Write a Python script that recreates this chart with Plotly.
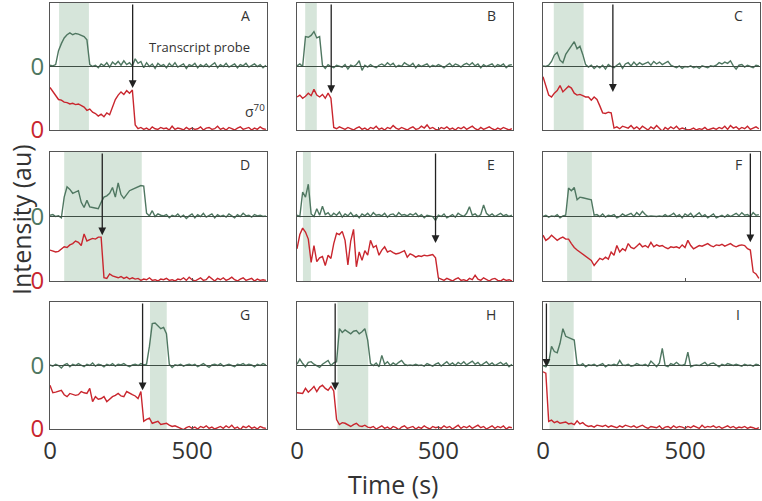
import plotly.graph_objects as go
from plotly.subplots import make_subplots

TIME = list(range(0, 770, 10))
PANELS = ["A", "B", "C", "D", "E", "F", "G", "H", "I"]

GREEN_A = [0.02, 0.01, 0.03, 0.25, 0.36, 0.45, 0.50, 0.53, 0.50, 0.52,
           0.51, 0.49, 0.47, 0.42, 0.03, 0.00, 0.02, -0.02, 0.04, 0.01,
           0.06, -0.01, 0.07, 0.03, 0.08, 0.02, 0.09, 0.03, 0.06, 0.01,
           0.12, 0.05, 0.08, -0.02, 0.06, 0.00, 0.04, -0.03, 0.05, 0.01,
           0.03, -0.02, 0.05, 0.00, 0.06, -0.01, 0.02, 0.04, -0.03, 0.03,
           0.01, 0.05, -0.02, 0.03, 0.00, 0.04, -0.01, 0.02, 0.06, -0.02,
           0.03, 0.00, 0.05, -0.01, 0.02, 0.04, -0.02, 0.03, 0.01, 0.05,
           -0.01, 0.02, 0.04, 0.00, 0.03, -0.02, 0.02]
RED_A = [0.67, 0.60, 0.55, 0.48, 0.47, 0.44, 0.43, 0.41, 0.42, 0.40,
         0.41, 0.38, 0.36, 0.31, 0.33, 0.28, 0.26, 0.22, 0.25, 0.21,
         0.27, 0.24, 0.35, 0.48, 0.55, 0.60, 0.56, 0.62, 0.58, 0.63,
         0.08, 0.02, 0.04, 0.01, 0.03, 0.00, 0.05, 0.02, 0.01, 0.04,
         0.02, 0.03, 0.00, 0.06, 0.01, 0.03, 0.02, 0.00, 0.04, 0.01,
         0.03, 0.01, 0.02, 0.05, 0.00, 0.03, 0.04, 0.01, 0.02, 0.06,
         0.01, 0.03, 0.00, 0.04, 0.02, 0.00, 0.03, 0.05, 0.01, 0.02,
         0.04, 0.00, 0.03, 0.01, 0.05, 0.02, 0.01]

GREEN_B = [0.01, 0.04, 0.00, 0.47, 0.46, 0.49, 0.55, 0.45, 0.47, 0.02,
           -0.03, 0.03, 0.00, -0.02, 0.02, 0.01, -0.01, 0.03, -0.04, 0.02,
           0.00, 0.03, 0.09, -0.06, 0.02, -0.01, 0.03, 0.00, -0.02, 0.02,
           0.04, 0.01, 0.06, 0.02, 0.05, -0.01, 0.02, 0.00, 0.06, 0.03,
           0.01, 0.05, -0.02, 0.03, 0.00, 0.02, 0.04, -0.01, 0.02, 0.00,
           0.03, 0.01, -0.02, 0.02, 0.05, 0.00, 0.04, 0.02, -0.01, 0.03,
           0.05, 0.02, 0.06, 0.01, 0.04, -0.02, 0.03, 0.00, 0.02, 0.04,
           -0.01, 0.03, 0.01, 0.04, -0.02, 0.02, 0.03]
RED_B = [0.52, 0.55, 0.50, 0.53, 0.58, 0.54, 0.64, 0.55, 0.52, 0.56,
         0.50, 0.58, 0.50, 0.04, 0.02, 0.05, 0.03, 0.01, 0.04, 0.02,
         0.00, 0.03, 0.05, 0.01, 0.03, 0.00, 0.04, 0.02, 0.06, 0.01,
         0.03, 0.00, 0.04, 0.02, 0.07, 0.03, 0.01, 0.04, 0.02, 0.00,
         0.03, 0.05, 0.01, 0.02, 0.06, 0.03, 0.08, 0.02, 0.04, 0.01,
         0.00, 0.04, 0.02, 0.05, 0.01, 0.03, 0.00, 0.04, 0.02, 0.05,
         0.01, 0.03, 0.06, 0.02, 0.00, 0.04, 0.01, 0.03, 0.05, 0.02,
         0.00, 0.03, 0.01, 0.04, 0.02, 0.00, 0.02]

GREEN_C = [0.01, 0.00, 0.02, 0.08, 0.18, 0.22, 0.10, 0.06, 0.19, 0.26,
           0.31, 0.39, 0.28, 0.32, 0.19, 0.03, -0.01, 0.02, -0.03, 0.01,
           -0.02, 0.02, -0.04, 0.03, 0.00, -0.02, 0.02, 0.05, -0.03, 0.04,
           0.06, 0.01, 0.07, 0.02, 0.06, 0.03, 0.05, 0.07, 0.02, 0.08,
           0.04, 0.07, 0.03, 0.06, 0.08, 0.02, 0.00, -0.02, 0.01, -0.03,
           0.00, -0.01, 0.01, -0.02, 0.00, -0.03, 0.01, 0.00, -0.02, 0.01,
           0.00, 0.02, 0.06, 0.04, 0.07, 0.05, 0.09, 0.01, -0.04, 0.02,
           0.03, -0.01, 0.02, 0.00, -0.02, 0.02, 0.01]
RED_C = [0.84, 0.70, 0.55, 0.52, 0.58, 0.62, 0.70, 0.60, 0.64, 0.69,
         0.66, 0.58, 0.55, 0.56, 0.54, 0.52, 0.52, 0.47, 0.52, 0.48,
         0.38, 0.27, 0.26, 0.28, 0.27, 0.03, 0.05, 0.02, 0.06, 0.04,
         0.03, 0.07, 0.02, 0.05, 0.01, 0.06, 0.03, 0.00, 0.05, 0.02,
         0.07, 0.03, -0.02, 0.04, 0.01, 0.05, 0.02, 0.06, 0.01, 0.03,
         0.02, 0.00, 0.01, 0.03, 0.00, 0.02, 0.01, 0.04, 0.00, 0.02,
         0.03, 0.01, 0.04, 0.02, 0.06, 0.01, 0.07, 0.03, 0.05, 0.01,
         0.04, 0.02, 0.06, 0.01, 0.03, 0.05, 0.02]

GREEN_D = [0.02, 0.03, 0.00, 0.01, -0.02, 0.30, 0.46, 0.42, 0.36, 0.38,
           0.40, 0.22, 0.14, 0.25, 0.15, 0.14, 0.13, 0.12, 0.22, 0.30,
           0.32, 0.36, 0.45, 0.30, 0.52, 0.34, 0.28, 0.34, 0.40, 0.42,
           0.44, 0.46, 0.48, 0.47, 0.05, 0.01, 0.09, 0.00, 0.04, 0.02,
           0.01, 0.03, -0.02, 0.02, 0.00, 0.04, -0.01, 0.02, -0.03, 0.01,
           0.04, -0.02, 0.03, 0.00, 0.05, -0.01, 0.02, 0.04, -0.02, 0.03,
           0.00, 0.02, -0.01, 0.04, 0.01, -0.02, 0.03, 0.00, 0.05, 0.01,
           0.02, -0.01, 0.03, 0.01, 0.02, 0.00, 0.01]
RED_D = [0.48, 0.47, 0.45, 0.46, 0.50, 0.53, 0.52, 0.56, 0.58, 0.62,
         0.60, 0.55, 0.73, 0.62, 0.64, 0.66, 0.65, 0.68, 0.68, 0.05,
         0.04, 0.11, 0.08, 0.06, 0.05, 0.07, 0.04, 0.06, 0.03, 0.05,
         0.03, 0.04, 0.01, 0.03, 0.02, 0.05, 0.01, 0.02, 0.00, 0.03,
         0.02, 0.04, 0.01, 0.02, 0.00, 0.03, 0.02, 0.05, 0.01, 0.06,
         0.02, 0.00, 0.03, 0.05, 0.01, 0.02, 0.07, 0.03, 0.00, 0.04,
         0.02, 0.05, 0.01, 0.03, 0.06, 0.02, 0.00, 0.03, 0.05, 0.01,
         0.02, 0.04, 0.00, 0.03, 0.01, 0.02, 0.01]

GREEN_E = [0.02, 0.00, 0.38, 0.30, 0.50, 0.04, 0.00, 0.12, 0.02, 0.16,
           0.03, 0.06, 0.00, 0.05, 0.02, 0.07, -0.01, 0.04, 0.01, 0.06,
           0.00, 0.03, -0.02, 0.04, 0.01, 0.05, 0.00, 0.06, 0.02, 0.03,
           0.01, 0.05, -0.01, 0.03, 0.04, 0.00, 0.06, 0.02, 0.03, 0.01,
           0.04, 0.02, 0.05, 0.00, 0.03, -0.02, 0.02, 0.01, 0.00, -0.06,
           0.02, 0.00, 0.04, -0.02, 0.01, 0.03, -0.01, 0.05, 0.02, 0.00,
           0.05, 0.15, 0.02, 0.04, 0.00, 0.03, 0.18, 0.05, 0.01, 0.04,
           0.00, 0.02, 0.05, 0.01, 0.03, 0.00, 0.02]
RED_E = [0.50, 0.72, 0.82, 0.76, 0.65, 0.29, 0.55, 0.30, 0.36, 0.38,
         0.24, 0.40, 0.35, 0.58, 0.74, 0.72, 0.77, 0.63, 0.25, 0.62,
         0.80, 0.22, 0.45, 0.32, 0.47, 0.40, 0.63, 0.52, 0.55, 0.40,
         0.48, 0.53, 0.45, 0.47, 0.44, 0.42, 0.43, 0.45, 0.47, 0.37,
         0.42, 0.40, 0.37, 0.39, 0.38, 0.40, 0.39, 0.40, 0.41, 0.36,
         0.05, 0.03, 0.01, 0.04, 0.02, 0.00, 0.03, 0.05, 0.01, 0.02,
         0.00, 0.04, 0.02, 0.09, 0.03, 0.01, 0.05, 0.02, 0.00, 0.03,
         0.04, 0.01, 0.00, 0.03, 0.01, 0.02, 0.00]

GREEN_F = [0.00, 0.02, -0.01, 0.01, 0.00, 0.03, -0.02, 0.01, 0.02, 0.44,
           0.40, 0.45, 0.26, 0.30, 0.29, 0.28, 0.27, 0.26, 0.02, 0.03,
           0.00, 0.04, -0.01, 0.02, 0.01, 0.03, -0.02, 0.00, 0.04, 0.01,
           0.03, 0.05, 0.00, 0.06, 0.02, 0.08, 0.03, 0.00, 0.01, 0.00,
           0.00, 0.01, 0.00, 0.03, 0.00, 0.02, 0.05, 0.00, 0.03, -0.02,
           0.04, 0.01, 0.05, -0.01, 0.02, 0.06, 0.00, 0.03, -0.02, 0.01,
           0.04, -0.02, 0.00, 0.02, -0.01, 0.03, 0.00, 0.02, 0.05, 0.01,
           0.06, 0.02, 0.03, 0.00, 0.06, 0.02, 0.03]
RED_F = [0.71, 0.63, 0.66, 0.71, 0.67, 0.63, 0.66, 0.68, 0.65, 0.65,
         0.58, 0.52, 0.48, 0.45, 0.42, 0.38, 0.35, 0.32, 0.24, 0.30,
         0.35, 0.33, 0.37, 0.34, 0.45, 0.40, 0.55, 0.45, 0.50, 0.47,
         0.58, 0.52, 0.50, 0.54, 0.58, 0.53, 0.55, 0.52, 0.60, 0.53,
         0.56, 0.54, 0.55, 0.52, 0.50, 0.53, 0.52, 0.53, 0.51, 0.56,
         0.52, 0.63, 0.55, 0.50, 0.53, 0.55, 0.54, 0.56, 0.58, 0.55,
         0.53, 0.56, 0.55, 0.57, 0.54, 0.56, 0.58, 0.55, 0.53, 0.55,
         0.56, 0.55, 0.50, 0.48, 0.14, 0.11, 0.04]

GREEN_G = [0.01, -0.01, 0.02, 0.00, -0.04, 0.01, 0.03, -0.02, 0.02, 0.00,
           0.03, 0.01, -0.02, 0.02, 0.00, 0.04, -0.01, 0.02, 0.01, -0.02,
           0.02, 0.00, 0.03, -0.01, 0.02, 0.01, 0.03, 0.00, -0.02, 0.01,
           0.02, 0.00, 0.03, 0.01, 0.02, 0.30, 0.66, 0.67, 0.62, 0.58,
           0.60, 0.50, 0.02, -0.03, 0.01, 0.00, 0.02, -0.01, 0.01, 0.02,
           0.00, 0.02, -0.02, 0.01, 0.03, 0.00, -0.03, 0.01, 0.02, 0.00,
           0.03, -0.01, 0.01, 0.02, 0.00, -0.02, 0.02, 0.01, 0.03, 0.00,
           0.02, 0.01, -0.02, 0.02, 0.00, 0.03, 0.01]
RED_G = [0.69, 0.57, 0.58, 0.59, 0.61, 0.54, 0.51, 0.56, 0.55, 0.53,
         0.54, 0.59, 0.57, 0.56, 0.64, 0.43, 0.51, 0.47, 0.48, 0.51,
         0.43, 0.47, 0.51, 0.53, 0.56, 0.52, 0.51, 0.59, 0.56, 0.54,
         0.52, 0.48, 0.59, 0.12, 0.15, 0.17, 0.09, 0.11, 0.12, 0.07,
         0.08, 0.09, 0.06, 0.04, 0.05, 0.03, 0.00, -0.01, 0.02, 0.04,
         0.01, 0.03, 0.00, 0.04, 0.02, 0.05, 0.01, 0.03, 0.00, 0.02,
         0.04, 0.01, 0.05, 0.02, 0.06, 0.01, 0.03, -0.01, 0.04, 0.02,
         0.05, 0.01, 0.03, 0.00, 0.04, 0.02, 0.01]

GREEN_H = [0.02, 0.10, 0.03, -0.02, 0.05, 0.06, 0.02, 0.00, -0.03, 0.02,
           0.05, 0.08, 0.00, 0.04, 0.06, 0.58, 0.52, 0.56, 0.53, 0.50,
           0.54, 0.55, 0.50, 0.53, 0.58, 0.40, 0.03, 0.00, 0.04, -0.02,
           0.16, 0.02, 0.06, 0.00, 0.04, 0.01, 0.05, 0.08, 0.02, 0.00,
           0.01, 0.00, 0.02, 0.00, 0.01, -0.01, 0.03, 0.01, -0.01, 0.02,
           0.04, -0.01, 0.03, 0.06, 0.01, 0.04, 0.00, 0.05, 0.02, 0.06,
           0.01, 0.04, 0.07, 0.02, 0.05, 0.00, 0.03, 0.06, 0.01, 0.04,
           0.00, 0.03, 0.05, 0.01, 0.04, -0.02, 0.02]
RED_H = [0.57, 0.57, 0.56, 0.64, 0.58, 0.62, 0.67, 0.59, 0.66, 0.69,
         0.64, 0.61, 0.67, 0.60, 0.15, 0.07, 0.10, 0.09, 0.06, 0.04,
         0.07, 0.09, 0.05, 0.04, 0.06, 0.03, 0.02, 0.04, 0.00, 0.03,
         0.05, 0.01, 0.03, 0.00, 0.04, 0.02, -0.01, 0.03, 0.05, 0.01,
         0.02, 0.04, 0.00, 0.03, 0.01, 0.05, 0.02, 0.00, 0.04, 0.02,
         0.03, 0.01, 0.05, 0.02, 0.04, 0.00, 0.03, 0.06, 0.01, 0.04,
         0.02, 0.05, 0.01, 0.03, 0.06, 0.02, 0.04, 0.00, 0.03, 0.05,
         0.01, 0.04, 0.02, 0.05, 0.00, 0.03, 0.02]

GREEN_I = [0.00, -0.02, 0.05, 0.30, 0.22, 0.20, 0.35, 0.58, 0.46, 0.44,
           0.42, 0.40, 0.02, 0.00, 0.03, -0.02, 0.01, 0.00, 0.02, -0.01,
           0.01, 0.03, -0.02, 0.01, 0.00, 0.02, 0.00, 0.08, 0.01, 0.00,
           0.02, -0.01, 0.00, 0.03, 0.01, 0.00, 0.02, -0.01, 0.07, 0.02,
           -0.02, 0.04, 0.27, 0.00, -0.02, 0.03, 0.01, 0.05, 0.01, 0.00,
           0.02, 0.21, -0.02, 0.00, 0.01, 0.00, 0.03, 0.05, 0.00, 0.03,
           0.04, 0.01, -0.02, 0.02, 0.00, 0.03, 0.01, 0.00, 0.02, 0.01,
           -0.01, 0.02, 0.00, 0.01, -0.01, 0.02, 0.01]
RED_I = [0.90, 0.88, 0.12, 0.14, 0.10, 0.12, 0.09, 0.10, 0.11, 0.08,
         0.09, 0.07, 0.13, 0.08, 0.10, 0.06, 0.04, 0.05, 0.03, 0.06,
         0.05, 0.04, 0.06, 0.03, 0.05, 0.04, 0.02, 0.05, 0.03, 0.06,
         0.04, 0.03, 0.05, 0.02, 0.04, 0.06, 0.03, 0.01, 0.04, 0.03,
         0.02, 0.05, 0.00, 0.03, 0.04, 0.01, 0.05, 0.02, 0.04, 0.03,
         0.01, 0.04, 0.02, 0.05, 0.03, 0.01, 0.06, 0.02, 0.04, 0.03,
         0.05, 0.02, 0.04, 0.01, 0.03, 0.05, 0.02, 0.04, 0.01, 0.03,
         0.02, 0.04, 0.01, 0.03, 0.02, 0.00, 0.02]

GREEN_SERIES = [GREEN_A, GREEN_B, GREEN_C, GREEN_D, GREEN_E, GREEN_F, GREEN_G, GREEN_H, GREEN_I]
RED_SERIES = [RED_A, RED_B, RED_C, RED_D, RED_E, RED_F, RED_G, RED_H, RED_I]

# binding window (s) and sigma70 release time (s)
SHADE_START = [32, 29, 38, 50, 21, 85, 352, 143, 23]
SHADE_END = [137, 70, 143, 323, 49, 172, 411, 252, 108]
ARROW_T = [291, 121, 246, 184, 490, 730, 326, 135, 12]
ARROW_Y = [0.66, 0.58, 0.60, 0.71, 0.59, 0.60, 0.61, 0.61, 0.98]

GREEN_OFFSET = 1.0
X_TICKS = [0, 500]
X_TICK_TEXT = ["0", "500"]

C_GREEN = "#4f7761"
C_RED = "#c9262e"
C_SHADE = "#d6e5da"
C_AXIS = "#555555"
C_TEXT = "#333333"
FONT = "Open Sans"

W, H = 762, 501


def px(x):
    return x / W


def py(y):
    return 1 - y / H


fig = make_subplots(rows=3, cols=3)

col_dom = [(px(50), px(267)), (px(297), px(513)), (px(543), px(760))]
row_dom = [(py(130), py(3)), (py(281), py(152)), (py(429), py(302))]

shapes = []
annotations = []
for i, name in enumerate(PANELS):
    r, c = divmod(i, 3)
    n = i + 1
    xs = "" if n == 1 else str(n)
    g = GREEN_SERIES[i]
    rd = RED_SERIES[i]
    fig.add_trace(go.Scatter(x=TIME[:len(g)], y=[GREEN_OFFSET + v for v in g], mode="lines",
                             line=dict(color=C_GREEN, width=1.4), showlegend=False, hoverinfo="skip"),
                  row=r + 1, col=c + 1)
    fig.add_trace(go.Scatter(x=TIME[:len(rd)], y=rd, mode="lines",
                             line=dict(color=C_RED, width=1.4), showlegend=False, hoverinfo="skip"),
                  row=r + 1, col=c + 1)
    shapes.append(dict(type="rect", xref="x" + xs, yref="y" + xs + " domain",
                       x0=SHADE_START[i], x1=SHADE_END[i], y0=0, y1=1,
                       fillcolor=C_SHADE, line=dict(width=0), layer="below"))
    shapes.append(dict(type="line", xref="x" + xs + " domain", yref="y" + xs,
                       x0=0, x1=1, y0=GREEN_OFFSET, y1=GREEN_OFFSET,
                       line=dict(color="#3f4f45", width=1.1), layer="above"))
    annotations.append(dict(xref="x" + xs, yref="y" + xs, axref="x" + xs, ayref="y" + xs,
                            x=ARROW_T[i], y=ARROW_Y[i], ax=ARROW_T[i], ay=2.0,
                            showarrow=True, arrowhead=2, arrowsize=1.2, arrowwidth=1.3,
                            arrowcolor="#222222", text=""))
    annotations.append(dict(xref="x" + xs + " domain", yref="y" + xs + " domain",
                            x=0.9, y=0.9, xanchor="center", yanchor="middle", text=name,
                            showarrow=False, font=dict(family=FONT, size=14, color=C_TEXT)))
    fig.layout["xaxis" + xs].update(domain=col_dom[c], range=[0, 764], showgrid=False, zeroline=False,
                                    automargin=False,
                                    showline=True, linecolor=C_AXIS, linewidth=1, mirror=True,
                                    tickvals=X_TICKS, ticktext=X_TICK_TEXT, ticks="inside", ticklen=3,
                                    tickcolor=C_AXIS, showticklabels=(r == 2),
                                    tickfont=dict(family=FONT, size=24, color=C_TEXT))
    yax = dict(domain=row_dom[r], range=[0, 2], showgrid=False, zeroline=False, automargin=False,
               showline=True, linecolor=C_AXIS, linewidth=1, mirror=True, ticks="")
    if c == 0:
        yax.update(tickvals=[0, GREEN_OFFSET],
                   ticktext=["<span style='color:%s'>0</span>" % C_RED,
                             "<span style='color:%s'>0</span>" % C_GREEN],
                   tickfont=dict(family=FONT, size=24), showticklabels=True)
    else:
        yax.update(showticklabels=False)
    fig.layout["yaxis" + xs].update(**yax)

annotations.append(dict(xref="x domain", yref="y domain", x=0.69, y=0.655, xanchor="center",
                        yanchor="middle", text="Transcript probe",
                        showarrow=False, font=dict(family=FONT, size=13, color=C_TEXT)))
annotations.append(dict(xref="x domain", yref="y domain", x=0.945, y=0.15, xanchor="center",
                        yanchor="middle", text="σ<sup>70</sup>",
                        showarrow=False, font=dict(family=FONT, size=14, color=C_TEXT)))
annotations.append(dict(xref="paper", yref="paper", x=px(393), y=py(484), xanchor="center",
                        yanchor="middle", text="Time (s)",
                        showarrow=False, font=dict(family=FONT, size=25, color=C_TEXT)))
annotations.append(dict(xref="paper", yref="paper", x=px(21), y=py(220), xanchor="center",
                        yanchor="middle", text="Intensity (au)",
                        textangle=-90, showarrow=False, font=dict(family=FONT, size=25, color=C_TEXT)))

fig.update_layout(width=W, height=H, margin=dict(l=0, r=0, t=0, b=0, autoexpand=False),
                  paper_bgcolor="white", plot_bgcolor="white",
                  shapes=shapes, annotations=annotations, showlegend=False)

fig.write_html("out.html", config={"displayModeBar": False},
               post_script="document.body.style.margin='0px';document.body.style.overflow='hidden';")
